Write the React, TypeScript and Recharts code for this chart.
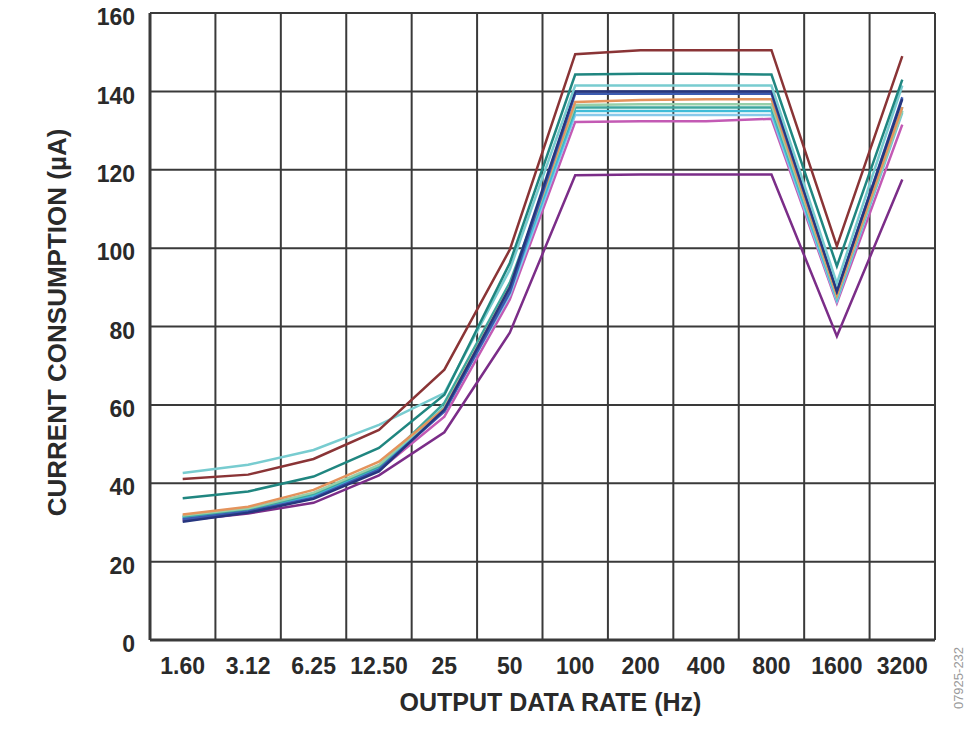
import React from 'react';
import { LineChart, Line, XAxis, YAxis, CartesianGrid } from 'recharts';

const rates = ['1.60', '3.12', '6.25', '12.50', '25', '50', '100', '200', '400', '800', '1600', '3200'];
const yTicks = [0, 20, 40, 60, 80, 100, 120, 140, 160];

const maroon = [41.1, 42.2, 46.2, 53.6, 69, 99.6, 149.5, 150.5, 150.5, 150.5, 100.5, 149];
const lightCyan = [42.6, 44.7, 48.5, 54.9, 63, 94.5, 141.5, 141.5, 141.5, 141.5, 91, 141.5];
const darkTeal = [36.2, 37.9, 41.7, 49, 62.6, 96.2, 144.3, 144.5, 144.5, 144.3, 95.4, 143];
const navy = [30.2, 32.5, 36, 43, 58.8, 90, 140, 140, 140, 140, 89, 138];
const blue = [30.8, 32.8, 36.3, 43.5, 58.3, 88.7, 139.4, 139.4, 139.4, 139.4, 89, 138.5];
const orange = [32, 34, 38.3, 45.5, 59, 90, 137.3, 137.8, 138, 138, 88, 136];
const green = [31.8, 33.6, 37.6, 44.7, 59.3, 90, 136.5, 136.7, 136.7, 136.7, 87.5, 135];
const midTeal = [31.5, 33.3, 37.3, 44.3, 60.5, 91.2, 135.9, 135.9, 135.9, 135.9, 88, 136];
const cyan = [31.3, 33.2, 37, 44, 59.5, 89, 135, 135, 135, 135, 87, 135];
const lightBlue = [31.2, 33, 36.8, 43.6, 58.5, 88, 134, 134, 134, 134, 86.5, 134.5];
const magenta = [31, 32.8, 36.5, 43.3, 57, 86.9, 132.2, 132.4, 132.4, 133, 86, 131.5];
const purple = [30.5, 32.3, 35, 42, 53, 78.4, 118.6, 118.8, 118.8, 118.8, 77.5, 117.5];

const series = [
  { key: 'purple', values: purple, color: '#7B2D88' },
  { key: 'magenta', values: magenta, color: '#C35AB4' },
  { key: 'lightBlue', values: lightBlue, color: '#88C9EA' },
  { key: 'cyan', values: cyan, color: '#3FBCD8' },
  { key: 'midTeal', values: midTeal, color: '#3FA79E' },
  { key: 'green', values: green, color: '#97CFA9' },
  { key: 'orange', values: orange, color: '#E4935C' },
  { key: 'blue', values: blue, color: '#3C5BB0' },
  { key: 'navy', values: navy, color: '#26367F' },
  { key: 'lightCyan', values: lightCyan, color: '#78CCD0' },
  { key: 'darkTeal', values: darkTeal, color: '#208680' },
  { key: 'maroon', values: maroon, color: '#8A3436' },
];

const data = rates.map((r, i) => {
  const row: Record<string, number | string> = { x: i + 0.5, rate: r };
  series.forEach((s) => {
    row[s.key] = s.values[i];
  });
  return row;
});

const labelTicks = rates.map((_, i) => i + 0.5);
const gridTicks = rates.map((_, i) => i).concat([rates.length]);

const FONT = "'Liberation Sans', Arial, Helvetica, sans-serif";

const YTitle = (props: any) => {
  const { viewBox } = props;
  const cx = viewBox.x + 49;
  const cy = viewBox.y + viewBox.height / 2 - 4;
  return (
    <text
      x={cx}
      y={cy}
      transform={`rotate(-90, ${cx}, ${cy})`}
      textAnchor="middle"
      dominantBaseline="central"
      fontFamily={FONT}
      fontWeight="bold"
      fontSize={26}
      fill="#2a2a2a"
    >
      CURRENT CONSUMPTION (µA)
    </text>
  );
};

const XTitle = (props: any) => {
  const { viewBox } = props;
  const cx = viewBox.x + viewBox.width / 2 + 8;
  const cy = viewBox.y + 62;
  return (
    <text
      x={cx}
      y={cy}
      textAnchor="middle"
      dominantBaseline="central"
      fontFamily={FONT}
      fontWeight="bold"
      fontSize={25}
      fill="#2a2a2a"
    >
      OUTPUT DATA RATE (Hz)
    </text>
  );
};

export default function App() {
  return (
    <div style={{ position: 'relative', width: 959, height: 741, marginTop: -8 }}>
      <LineChart
        width={959}
        height={741}
        data={data}
        margin={{ top: 13, right: 32, bottom: 41, left: 0 }}
      >
        <CartesianGrid xAxisId="grid" stroke="#3a3a3a" strokeWidth={2} />
        <XAxis
          xAxisId="grid"
          dataKey="x"
          type="number"
          domain={[0, 12]}
          ticks={gridTicks}
          height={0}
          hide
        />
        <XAxis
          xAxisId="lab"
          dataKey="x"
          type="number"
          domain={[0, 12]}
          ticks={labelTicks}
          interval={0}
          height={60}
          tickFormatter={(v: number) => rates[Math.floor(v)]}
          tickLine={false}
          tickSize={8}
          tickMargin={10}
          axisLine={{ stroke: '#3a3a3a', strokeWidth: 3 }}
          tick={{ fontFamily: FONT, fontWeight: 'bold', fontSize: 23, fill: '#2a2a2a' }}
          label={<XTitle />}
        />
        <YAxis
          domain={[0, 160]}
          ticks={yTicks}
          interval={0}
          width={142}
          tickLine={false}
          tickSize={6}
          tickMargin={9}
          axisLine={{ stroke: '#3a3a3a', strokeWidth: 3 }}
          tick={{ fontFamily: FONT, fontWeight: 'bold', fontSize: 23, fill: '#2a2a2a', dy: 4 }}
          label={<YTitle />}
        />
        <YAxis
          yAxisId="right"
          orientation="right"
          domain={[0, 160]}
          width={0}
          tick={false}
          tickLine={false}
          axisLine={{ stroke: '#3a3a3a', strokeWidth: 3 }}
        />
        {series.map((s) => (
          <Line
            key={s.key}
            xAxisId="lab"
            dataKey={s.key}
            stroke={s.color}
            strokeWidth={2.5}
            dot={false}
            activeDot={false}
            isAnimationActive={false}
          />
        ))}
      </LineChart>
      <div
        style={{
          position: 'absolute',
          left: 950,
          top: 678,
          transform: 'translate(-50%, -50%) rotate(-90deg)',
          fontFamily: FONT,
          fontSize: 13,
          color: '#9a9a9a',
          whiteSpace: 'nowrap',
        }}
      >
        07925-232
      </div>
    </div>
  );
}
